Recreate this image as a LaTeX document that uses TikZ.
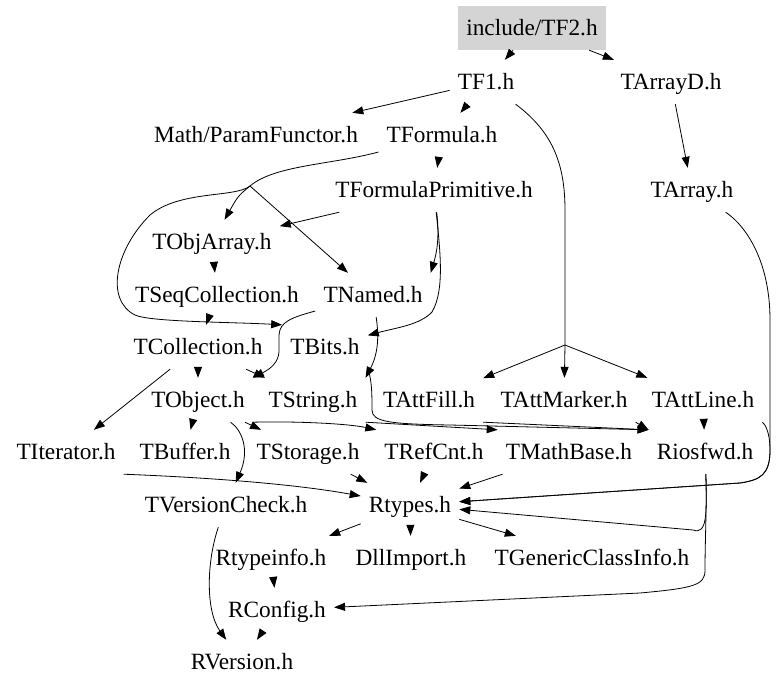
\documentclass[tikz,border=0pt]{standalone}
\usepackage{fontspec}
\setmainfont{Liberation Serif}
\usetikzlibrary{arrows.meta}
\tikzset{%
  incl/.style = {
    every node/.style = {shape=rectangle, align=center,
      minimum height=44pt, inner xsep=8pt,
      text height=18pt, text depth=3pt,
      font=\fontsize{23.3}{28}\selectfont},
    dep/.style = {draw, line width=0.8pt, -{Triangle[length=11pt,width=8pt]}}
  },
  rootfile/.style = {fill=black!17}
}

\begin{document}
\begin{tikzpicture}[x=1pt,y=-1pt,incl]
\useasboundingbox (0,0) rectangle (779,691);
\node[rootfile] (tftwo) at (532,28) {include/TF2.h};
\node (tfone) at (486,82) {TF1.h};
\node (tarrayd) at (671,82) {TArrayD.h};
\node (param) at (256,135) {Math/ParamFunctor.h};
\node (tformula) at (442,135) {TFormula.h};
\node (tfprim) at (434,190) {TFormulaPrimitive.h};
\node (tarray) at (692,190) {TArray.h};
\node (tobjarray) at (212,242) {TObjArray.h};
\node (tseqcoll) at (217,295) {TSeqCollection.h};
\node (tnamed) at (373,295) {TNamed.h};
\node (tcoll) at (198,347) {TCollection.h};
\node (tbits) at (325,347) {TBits.h};
\node (tobject) at (198,400) {TObject.h};
\node (tstring) at (313,400) {TString.h};
\node (tattfill) at (429,400) {TAttFill.h};
\node (tattmarker) at (564,400) {TAttMarker.h};
\node (tattline) at (703,400) {TAttLine.h};
\node (titer) at (66,452) {TIterator.h};
\node (tbuffer) at (185,452) {TBuffer.h};
\node (tstorage) at (308,452) {TStorage.h};
\node (trefcnt) at (434,452) {TRefCnt.h};
\node (tmathbase) at (569,452) {TMathBase.h};
\node (riosfwd) at (705,452) {Riosfwd.h};
\node (tvcheck) at (226,505) {TVersionCheck.h};
\node (rtypes) at (410,505) {Rtypes.h};
\node (rtypeinfo) at (271,558) {Rtypeinfo.h};
\node (dllimport) at (411,558) {DllImport.h};
\node (tgeneric) at (592,558) {TGenericClassInfo.h};
\node (rconfig) at (277,610) {RConfig.h};
\node (rversion) at (242,662) {RVersion.h};
\coordinate (attsplit) at (565,345);
\coordinate (fsplit) at (250,186);
\coordinate (rbend) at (770,450);

\draw[dep] (tftwo) -- (tfone);
\draw[dep] (tftwo) -- (tarrayd);
\draw[dep] (tfone) -- (param);
\draw[dep] (tfone) -- (tformula);
\draw[line width=0.8pt] (tfone) .. controls (550,130) and (565,160) .. (565,210) -- (attsplit);
\foreach \att in {tattfill,tattmarker,tattline}
  \draw[dep] (attsplit) -- (\att);
\draw[dep] (tarrayd) -- (tarray);
\draw[dep] (tarray) .. controls (745,225) and (770,260) .. (770,320) -- (rbend)
  .. controls (770,475) and (760,480) .. (740,483) -- (rtypes);
\draw[dep] (tformula) -- (tfprim);
\draw[line width=0.8pt] (tformula) .. controls (330,165) and (275,165) .. (fsplit);
\draw[dep] (fsplit) .. controls (238,196) .. (tobjarray);
\draw[dep] (fsplit) -- (tnamed);
\draw[dep] (fsplit) .. controls (235,198) and (180,190) .. (150,215)
  .. controls (115,250) and (105,300) .. (135,315)
  .. controls (150,322) and (230,322) .. (tbits.north west);
\draw[dep] (tfprim) -- (tobjarray);
\draw[dep] (tfprim) .. controls (440,240) and (436,255) .. (tnamed.north east);
\draw[dep] (tfprim) .. controls (440,250) and (445,290) .. (432,312)
  .. controls (420,325) and (395,328) .. (tbits);
\draw[dep] (tobjarray) -- (tseqcoll);
\draw[dep] (tseqcoll) -- (tcoll);
\draw[dep] (tnamed) .. controls (290,318) and (280,322) .. (279,335) -- (279,352)
  .. controls (278,362) and (272,368) .. (tobject.north east);
\draw[dep] (tnamed) .. controls (378,330) and (380,350) .. (tstring.north east);
\draw[dep] (tcoll) -- (tobject);
\draw[dep] (tcoll) -- (tstring);
\draw[dep] (tcoll) -- (titer);
\draw[dep] (tobject) -- (tbuffer);
\draw[dep] (tobject) -- (tstorage);
\draw[dep] (tobject) .. controls (242,430) and (250,450) .. (tvcheck);
\draw[dep] (tobject.south east) .. controls (300,421) and (350,424) .. (trefcnt.north west);
\draw[dep] (tstring.south east) -- (tmathbase.north west);
\draw[dep] (tbits.south east) .. controls (372,380) and (372,395) .. (372,410)
  .. controls (372,422) and (390,424) .. (450,425) -- (riosfwd.north west);
\draw[dep] (tattfill.south east) -- (riosfwd.north west);
\draw[dep] (tattmarker.south east) -- (riosfwd.north west);
\draw[dep] (tattline) -- (riosfwd);
\draw[dep] (tattline.south east) .. controls (765,424) and (770,432) .. (rbend)
  .. controls (770,475) and (760,480) .. (740,483) -- (rtypes);
\draw[dep] (titer.south east) .. controls (220,478) and (300,485) .. (rtypes);
\draw[dep] (tstorage) -- (rtypes);
\draw[dep] (trefcnt) -- (rtypes);
\draw[dep] (tmathbase) -- (rtypes);
\draw[dep] (riosfwd) .. controls (707,515) and (707,535) .. (693,530) -- (rtypes);
\draw[dep] (riosfwd) .. controls (707,500) and (705,540) .. (705,570)
  .. controls (705,585) and (695,588) .. (640,593) -- (rconfig);
\draw[dep] (tvcheck) .. controls (207,560) and (205,610) .. (rversion);
\draw[dep] (rtypes) -- (rtypeinfo);
\draw[dep] (rtypes) -- (dllimport);
\draw[dep] (rtypes) -- (tgeneric);
\draw[dep] (rtypeinfo) -- (rconfig);
\draw[dep] (rconfig) -- (rversion);
\end{tikzpicture}
\end{document}
